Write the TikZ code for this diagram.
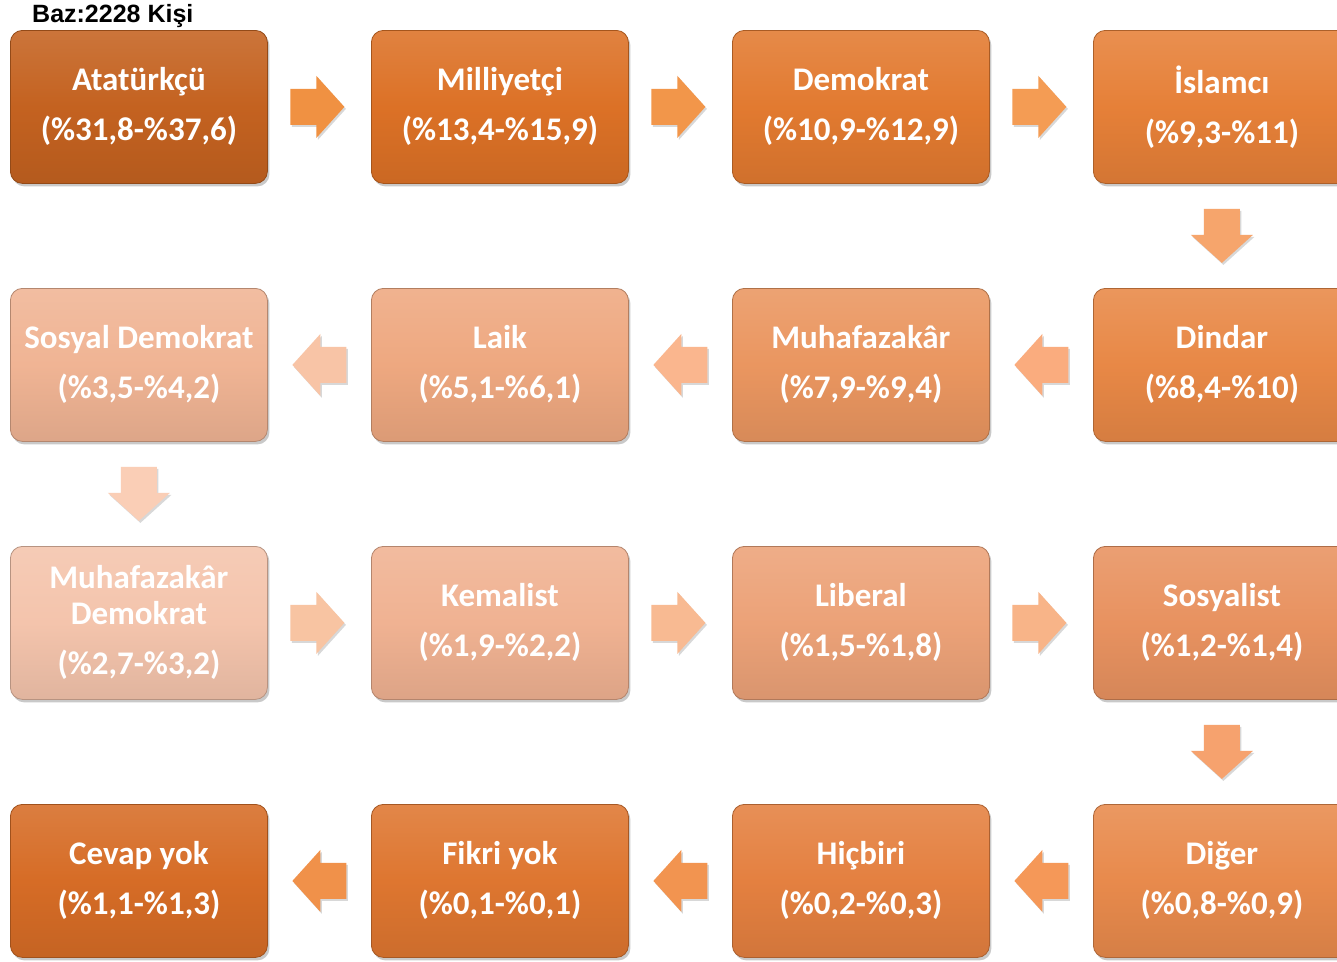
\documentclass[tikz,border=0pt]{standalone}
\usepackage{fontspec}
\setmainfont{Carlito}
\newfontfamily\basefont{Liberation Sans}
\usetikzlibrary{calc,shadows}
\definecolor{cA}{RGB}{196,98,32}
\definecolor{cB}{RGB}{220,113,38}
\definecolor{cC}{RGB}{226,122,48}
\definecolor{cD}{RGB}{230,128,56}
\definecolor{cE}{RGB}{232,136,70}
\definecolor{cF}{RGB}{234,150,96}
\definecolor{cG}{RGB}{238,168,128}
\definecolor{cH}{RGB}{240,180,148}
\definecolor{cI}{RGB}{244,196,172}
\definecolor{cJ}{RGB}{240,178,146}
\definecolor{cK}{RGB}{236,162,120}
\definecolor{cL}{RGB}{232,146,96}
\definecolor{cM}{RGB}{232,138,76}
\definecolor{cN}{RGB}{228,128,64}
\definecolor{cO}{RGB}{222,118,48}
\definecolor{cP}{RGB}{214,108,38}
\tikzset{
  bx/.style={rounded corners=12pt, minimum width=257pt, minimum height=153pt,
    anchor=north west, inner sep=0pt, align=center, text=white,
    font=\bfseries\fontsize{33}{50}\selectfont,
    draw=#1!75!black, line width=0.8pt,
    top color=#1!88!white, bottom color=#1!92!black, middle color=#1,
    drop shadow={shadow xshift=2pt, shadow yshift=-3pt, opacity=0.35, fill=black!60}},
  blockarrow/.pic={
    \fill[pic actions, drop shadow={shadow xshift=1.5pt, shadow yshift=-2pt, opacity=0.3}]
      (-27pt,-18pt) -- (-1pt,-18pt) -- (-1pt,-31pt) -- (27pt,0pt) -- (-1pt,31pt)
      -- (-1pt,18pt) -- (-27pt,18pt) -- cycle;}
}
\begin{document}
\begin{tikzpicture}[x=1pt,y=-1pt]
\useasboundingbox (0,0) rectangle (1337,961);
\clip (0,0) rectangle (1337,961);
\fill[white] (0,0) rectangle (1337,961);
\node[anchor=base west, font=\basefont\bfseries\fontsize{25}{30}\selectfont, inner sep=0pt] (baz) at (32,22) {Baz:2228 Kişi};
% row 1
\node[bx=cA] (a1) at (10,30) {Atatürkçü\\(\%31,8-\%37,6)};
\node[bx=cB] (a2) at (371,30) {Milliyetçi\\(\%13,4-\%15,9)};
\node[bx=cC] (a3) at (732,30) {Demokrat\\(\%10,9-\%12,9)};
\node[bx=cD] (a4) at (1093,30) {İslamcı\\(\%9,3-\%11)};
% row 2
\node[bx=cE] (b4) at (1093,288) {Dindar\\(\%8,4-\%10)};
\node[bx=cF] (b3) at (732,288) {Muhafazakâr\\(\%7,9-\%9,4)};
\node[bx=cG] (b2) at (371,288) {Laik\\(\%5,1-\%6,1)};
\node[bx=cH] (b1) at (10,288) {Sosyal Demokrat\\(\%3,5-\%4,2)};
% row 3
\node[bx=cI] (c1) at (10,546) {Muhafazakâr\\[-14pt]Demokrat\\(\%2,7-\%3,2)};
\node[bx=cJ] (c2) at (371,546) {Kemalist\\(\%1,9-\%2,2)};
\node[bx=cK] (c3) at (732,546) {Liberal\\(\%1,5-\%1,8)};
\node[bx=cL] (c4) at (1093,546) {Sosyalist\\(\%1,2-\%1,4)};
% row 4
\node[bx=cM] (d4) at (1093,804) {Diğer\\(\%0,8-\%0,9)};
\node[bx=cN] (d3) at (732,804) {Hiçbiri\\(\%0,2-\%0,3)};
\node[bx=cO] (d2) at (371,804) {Fikri yok\\(\%0,1-\%0,1)};
\node[bx=cP] (d1) at (10,804) {Cevap yok\\(\%1,1-\%1,3)};
% arrows
\pic[fill={rgb,255:red,240;green,145;blue,66}] at ($(a1.east)!0.5!(a2.west)+(-2,0)$) {blockarrow};
\pic[fill={rgb,255:red,242;green,150;blue,74}] at ($(a2.east)!0.5!(a3.west)+(-2,0)$) {blockarrow};
\pic[fill={rgb,255:red,244;green,156;blue,84}] at ($(a3.east)!0.5!(a4.west)+(-2,0)$) {blockarrow};
\pic[rotate=-90, fill={rgb,255:red,246;green,165;blue,108}] at ($(a4.south)!0.5!(b4.north)$) {blockarrow};
\pic[rotate=180, fill={rgb,255:red,250;green,172;blue,126}] at ($(b4.west)!0.5!(b3.east)$) {blockarrow};
\pic[rotate=180, fill={rgb,255:red,250;green,182;blue,142}] at ($(b3.west)!0.5!(b2.east)$) {blockarrow};
\pic[rotate=180, fill={rgb,255:red,248;green,196;blue,166}] at ($(b2.west)!0.5!(b1.east)$) {blockarrow};
\pic[rotate=-90, fill={rgb,255:red,250;green,206;blue,182}] at ($(b1.south)!0.5!(c1.north)$) {blockarrow};
\pic[fill={rgb,255:red,248;green,196;blue,162}] at ($(c1.east)!0.5!(c2.west)+(-2,0)$) {blockarrow};
\pic[fill={rgb,255:red,248;green,186;blue,146}] at ($(c2.east)!0.5!(c3.west)+(-2,0)$) {blockarrow};
\pic[fill={rgb,255:red,248;green,180;blue,136}] at ($(c3.east)!0.5!(c4.west)+(-2,0)$) {blockarrow};
\pic[rotate=-90, fill={rgb,255:red,246;green,162;blue,110}] at ($(c4.south)!0.5!(d4.north)$) {blockarrow};
\pic[rotate=180, fill={rgb,255:red,245;green,152;blue,88}] at ($(d4.west)!0.5!(d3.east)$) {blockarrow};
\pic[rotate=180, fill={rgb,255:red,242;green,148;blue,80}] at ($(d3.west)!0.5!(d2.east)$) {blockarrow};
\pic[rotate=180, fill={rgb,255:red,240;green,145;blue,74}] at ($(d2.west)!0.5!(d1.east)$) {blockarrow};
\end{tikzpicture}
\end{document}
